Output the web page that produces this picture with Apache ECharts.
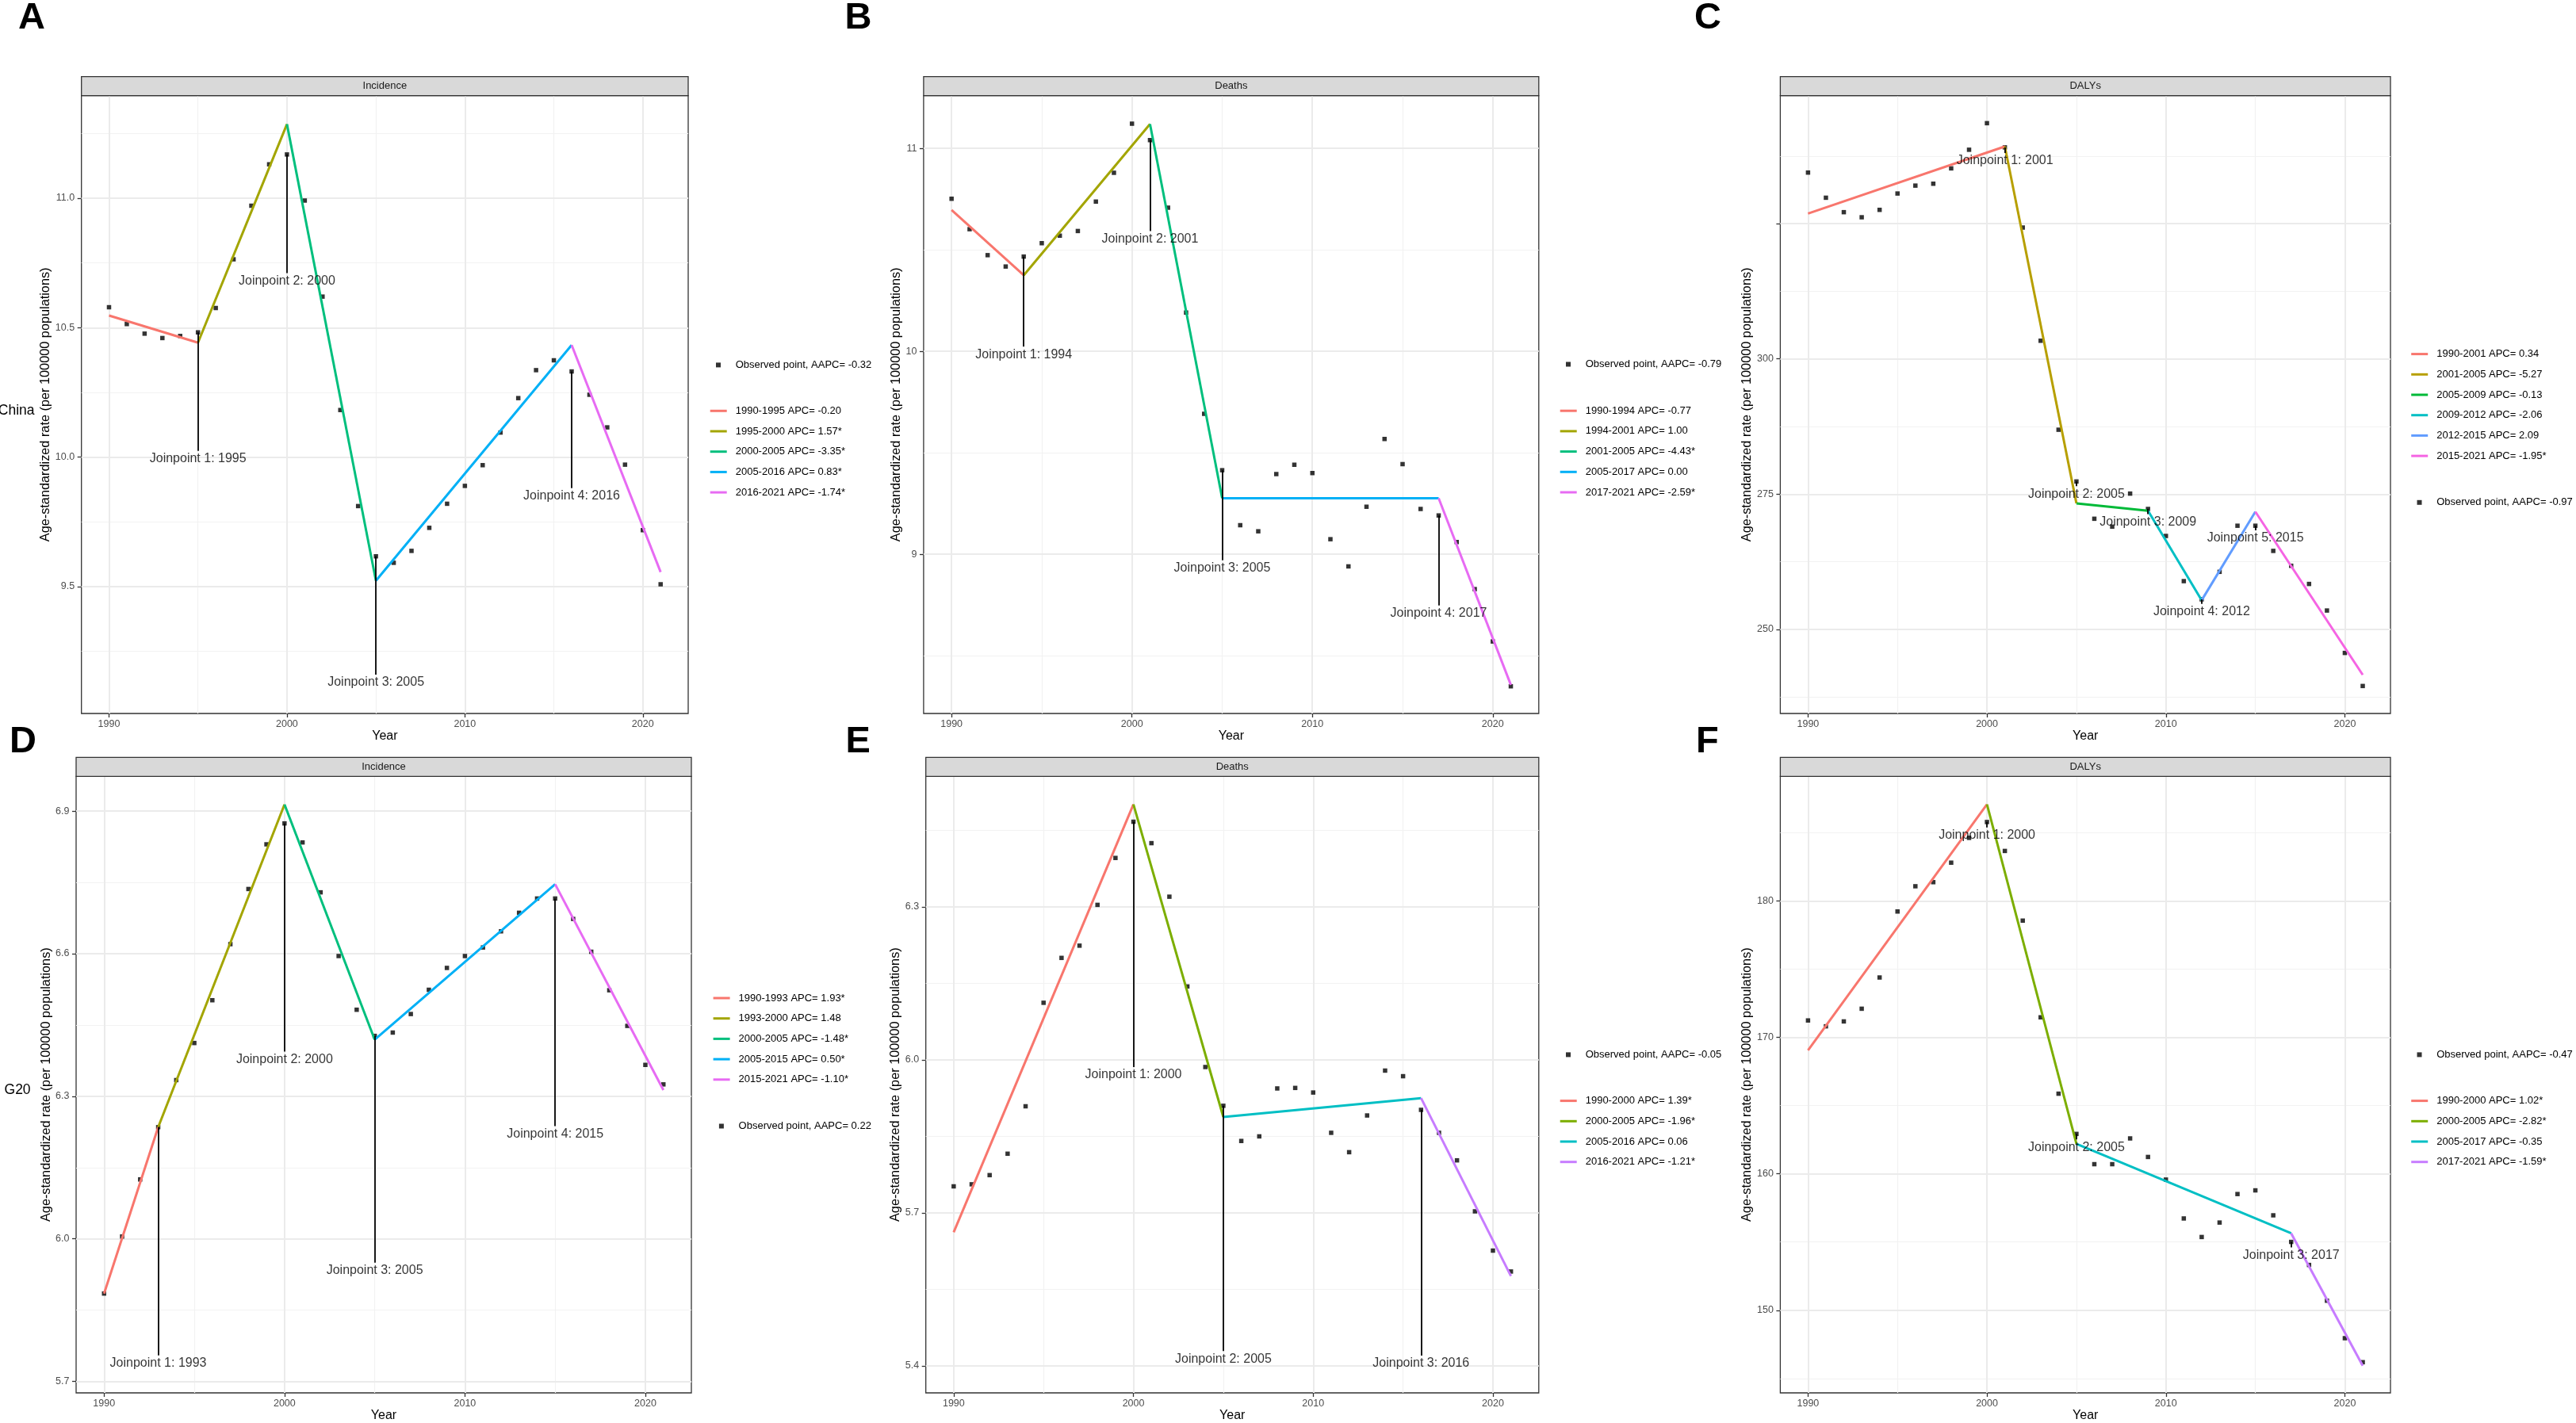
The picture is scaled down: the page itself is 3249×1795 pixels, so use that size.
<!DOCTYPE html>
<html><head><meta charset="utf-8">
<script src="https://cdn.jsdelivr.net/npm/echarts@6/dist/echarts.min.js"></script>
<style>html,body{margin:0;padding:0;background:#fff}#main{width:3249px;height:1795px}</style>
</head><body><div id="main"></div>
<script>
// ---------- data ----------
const YEARS = [1990,1991,1992,1993,1994,1995,1996,1997,1998,1999,2000,2001,2002,2003,2004,2005,2006,2007,2008,2009,2010,2011,2012,2013,2014,2015,2016,2017,2018,2019,2020,2021];
const X_MAJOR = [1990,2000,2010,2020];
const X_MINOR = [1995,2005,2015];

// A: China Incidence
const A_obs = [10.579,10.514,10.477,10.460,10.468,10.482,10.576,10.764,10.971,11.131,11.169,10.991,10.620,10.182,9.811,9.617,9.592,9.638,9.727,9.820,9.889,9.969,10.095,10.228,10.336,10.374,10.331,10.241,10.115,9.971,9.718,9.509];
const A_fitYears = [1990,1995,2000,2005,2016,2021];
const A_fit = [10.547,10.442,11.286,9.523,10.433,9.556];
const A_segNames = ["1990-1995 APC= -0.20","1995-2000 APC= 1.57*","2000-2005 APC= -3.35*","2005-2016 APC= 0.83*","2016-2021 APC= -1.74*"];
const A_obsName = "Observed point, AAPC= -0.32";
const A_jpYears = [1995,2000,2005,2016];
const A_jpLabelY = [10.024,10.711,9.16,9.88];
const A_yMajor = [9.5,10,10.5,11];
const A_yLabels = [9.5,10,10.5,11];
const A_yMinor = [9.25,9.75,10.25,10.75,11.25];

// B: China Deaths
const B_obs = [10.752,10.602,10.474,10.418,10.467,10.533,10.570,10.593,10.738,10.880,11.122,11.041,10.708,10.191,9.692,9.414,9.143,9.113,9.395,9.441,9.400,9.074,8.940,9.234,9.568,9.444,9.223,9.191,9.060,8.828,8.570,8.349];
const B_fitYears = [1990,1994,2001,2005,2017,2021];
const B_fit = [10.697,10.375,11.120,9.276,9.276,8.356];
const B_segNames = ["1990-1994 APC= -0.77","1994-2001 APC= 1.00","2001-2005 APC= -4.43*","2005-2017 APC= 0.00","2017-2021 APC= -2.59*"];
const B_obsName = "Observed point, AAPC= -0.79";
const B_jpYears = [1994,2001,2005,2017];
const B_jpLabelY = [10.023,10.593,8.970,8.747];
const B_yMajor = [9,10,11];
const B_yLabels = [9,10,11];
const B_yMinor = [8.5,9.5,10.5];

// C: China DALYs
const C_obs = [334.44,329.79,327.12,326.18,327.55,330.57,332.03,332.38,335.22,338.66,343.57,339.1,324.28,303.36,286.91,277.35,270.46,269.00,275.11,272.27,267.28,258.93,255.57,260.65,269.17,269.17,264.52,261.77,258.41,253.50,245.66,239.55];
const C_fitYears = [1990,2001,2005,2009,2012,2015,2021];
const C_fit = [326.87,339.27,273.31,271.93,255.40,271.76,241.62];
const C_segNames = ["1990-2001 APC= 0.34","2001-2005 APC= -5.27","2005-2009 APC= -0.13","2009-2012 APC= -2.06","2012-2015 APC= 2.09","2015-2021 APC= -1.95*"];
const C_obsName = "Observed point, AAPC= -0.97";
const C_jpYears = [2001,2005,2009,2012,2015];
const C_jpLabelY = [338.06,276.49,271.32,254.71,268.31];
const C_yMajor = [250,275,300,325];
const C_yLabels = [250,275,300];
const C_yMinor = [237.5,262.5,287.5,312.5,337.5];

// D: G20 Incidence
const D_obs = [5.885,6.005,6.125,6.235,6.334,6.412,6.502,6.620,6.736,6.830,6.874,6.834,6.729,6.595,6.482,6.427,6.434,6.473,6.524,6.570,6.595,6.613,6.647,6.686,6.716,6.716,6.673,6.604,6.523,6.448,6.366,6.325];
const D_fitYears = [1990,1993,2000,2005,2015,2021];
const D_fit = [5.885,6.235,6.914,6.419,6.746,6.313];
const D_segNames = ["1990-1993 APC= 1.93*","1993-2000 APC= 1.48","2000-2005 APC= -1.48*","2005-2015 APC= 0.50*","2015-2021 APC= -1.10*"];
const D_obsName = "Observed point, AAPC= 0.22";
const D_jpYears = [1993,2000,2005,2015];
const D_jpLabelY = [5.755,6.394,5.950,6.237];
const D_yMajor = [5.7,6.0,6.3,6.6,6.9];
const D_yLabels = [5.7,6.0,6.3,6.6,6.9];
const D_yMinor = [5.85,6.15,6.45,6.75];

// E: G20 Deaths
const E_obs = [5.752,5.756,5.774,5.816,5.909,6.112,6.200,6.224,6.304,6.396,6.467,6.425,6.320,6.144,5.986,5.910,5.841,5.850,5.944,5.945,5.936,5.857,5.819,5.891,5.979,5.968,5.902,5.857,5.803,5.703,5.626,5.585];
const E_fitYears = [1990,2000,2005,2016,2021];
const E_fit = [5.662,6.501,5.888,5.925,5.576];
const E_segNames = ["1990-2000 APC= 1.39*","2000-2005 APC= -1.96*","2005-2016 APC= 0.06","2016-2021 APC= -1.21*"];
const E_obsName = "Observed point, AAPC= -0.05";
const E_jpYears = [2000,2005,2016];
const E_jpLabelY = [5.986,5.429,5.420];
const E_yMajor = [5.4,5.7,6.0,6.3];
const E_yLabels = [5.4,5.7,6.0,6.3];
const E_yMinor = [5.55,5.85,6.15,6.45];

// F: G20 DALYs
const F_obs = [171.25,170.82,171.18,172.11,174.40,179.24,181.09,181.39,182.82,184.64,185.80,183.68,178.57,171.48,165.88,162.93,160.71,160.71,162.60,161.24,159.58,156.73,155.37,156.43,158.52,158.79,156.96,155.01,153.32,150.70,147.95,146.19];
const F_fitYears = [1990,2000,2005,2017,2021];
const F_fit = [169.06,187.09,162.20,155.64,145.93];
const F_segNames = ["1990-2000 APC= 1.02*","2000-2005 APC= -2.82*","2005-2017 APC= -0.35","2017-2021 APC= -1.59*"];
const F_obsName = "Observed point, AAPC= -0.47";
const F_jpYears = [2000,2005,2017];
const F_jpLabelY = [185.40,162.53,154.61];
const F_yMajor = [150,160,170,180];
const F_yLabels = [150,160,170,180];
const F_yMinor = [145,155,165,175,185];

// ---------- styling / layout ----------
const PAL5 = ['#F8766D','#A3A500','#00BF7D','#00B0F6','#E76BF3'];
const PAL6 = ['#F8766D','#B79F00','#00BA38','#00BFC4','#619CFF','#F564E3'];
const PAL4 = ['#F8766D','#7CAE00','#00BFC4','#C77CFF'];
const FONT = "'Liberation Sans', Arial, Helvetica, sans-serif";

const panels = [
  {letter:'A', lx:23, ly:23.5, strip:'Incidence', obs:A_obs, fitYears:A_fitYears, fit:A_fit, segNames:A_segNames, obsName:A_obsName, jpYears:A_jpYears, jpLabelY:A_jpLabelY, yMajor:A_yMajor, yLabels:A_yLabels, yMinor:A_yMinor, dec:1, yMin:9.01, yMax:11.396, colors:PAL5,
   grid:{left:102.7, top:120.7, width:765.3, height:779.3}, nameGap:36.4, textX:927.7, lineRow:518.3, obsRow:460.4},
  {letter:'B', lx:1065.6, ly:23.5, strip:'Deaths', obs:B_obs, fitYears:B_fitYears, fit:B_fit, segNames:B_segNames, obsName:B_obsName, jpYears:B_jpYears, jpLabelY:B_jpLabelY, yMajor:B_yMajor, yLabels:B_yLabels, yMinor:B_yMinor, dec:0, yMin:8.215, yMax:11.26, colors:PAL5,
   grid:{left:1164.9, top:120.7, width:775.9, height:779.3}, nameGap:25.9, textX:1999.7, lineRow:518.2, obsRow:459.5},
  {letter:'C', lx:2137, ly:23.5, strip:'DALYs', obs:C_obs, fitYears:C_fitYears, fit:C_fit, segNames:C_segNames, obsName:C_obsName, jpYears:C_jpYears, jpLabelY:C_jpLabelY, yMajor:C_yMajor, yLabels:C_yLabels, yMinor:C_yMinor, dec:0, yMin:234.47, yMax:348.65, colors:PAL6,
   grid:{left:2245.4, top:120.7, width:769.6, height:779.3}, nameGap:33.7, textX:3073.2, lineRow:446.6, obsRow:633.8},
  {letter:'D', lx:12, ly:936.5, strip:'Incidence', obs:D_obs, fitYears:D_fitYears, fit:D_fit, segNames:D_segNames, obsName:D_obsName, jpYears:D_jpYears, jpLabelY:D_jpLabelY, yMajor:D_yMajor, yLabels:D_yLabels, yMinor:D_yMinor, dec:1, yMin:5.676, yMax:6.973, colors:PAL5,
   grid:{left:96, top:979.3, width:776, height:778.6}, nameGap:29.4, textX:931.6, lineRow:1259, obsRow:1420.5},
  {letter:'E', lx:1066.5, ly:936.5, strip:'Deaths', obs:E_obs, fitYears:E_fitYears, fit:E_fit, segNames:E_segNames, obsName:E_obsName, jpYears:E_jpYears, jpLabelY:E_jpLabelY, yMajor:E_yMajor, yLabels:E_yLabels, yMinor:E_yMinor, dec:1, yMin:5.347, yMax:6.556, colors:PAL4,
   grid:{left:1167.7, top:979.3, width:773.1, height:778.6}, nameGap:28.7, textX:1999.7, lineRow:1388.6, obsRow:1330.4},
  {letter:'F', lx:2139, ly:936.5, strip:'DALYs', obs:F_obs, fitYears:F_fitYears, fit:F_fit, segNames:F_segNames, obsName:F_obsName, jpYears:F_jpYears, jpLabelY:F_jpLabelY, yMajor:F_yMajor, yLabels:F_yLabels, yMinor:F_yMinor, dec:0, yMin:143.94, yMax:189.15, colors:PAL4,
   grid:{left:2245.4, top:979.3, width:769.6, height:778.6}, nameGap:33.7, textX:3073.2, lineRow:1388.6, obsRow:1330.4}
];

const grids = [], xAxes = [], yAxes = [], series = [], legends = [], graphics = [];

panels.forEach((p, i) => {
  grids.push(Object.assign({show:true, borderColor:'#333333', borderWidth:1.3, backgroundColor:'transparent', containLabel:false}, p.grid));
  xAxes.push({
    type:'value', gridIndex:i, min:1988.45, max:2022.55,
    axisLine:{show:false},
    axisTick:{show:true, length:5, lineStyle:{color:'#333333', width:1.3}, customValues:X_MAJOR},
    axisLabel:{customValues:X_MAJOR, fontSize:12.5, color:'#4d4d4d', margin:7, fontFamily:FONT, formatter:v=>String(v)},
    splitLine:{show:false},
    name:'Year', nameLocation:'middle', nameGap:21, nameTextStyle:{fontSize:16, color:'#000', fontFamily:FONT}
  });
  yAxes.push({
    type:'value', gridIndex:i, min:p.yMin, max:p.yMax,
    axisLine:{show:false},
    axisTick:{show:true, length:5, lineStyle:{color:'#333333', width:1.3}, customValues:p.yMajor},
    axisLabel:{customValues:p.yLabels, fontSize:12.5, color:'#4d4d4d', margin:8.5, fontFamily:FONT, formatter:v=>Number(v).toFixed(p.dec)},
    splitLine:{show:false},
    name:'Age-standardized rate (per 100000 populations)', nameLocation:'middle', nameGap:p.nameGap,
    nameTextStyle:{fontSize:16.3, color:'#000', fontFamily:FONT}
  });

  // gridlines (drawn beneath everything)
  const gl = [];
  X_MINOR.forEach(v => gl.push({xAxis:v, lineStyle:{color:'#f2f2f2', width:1.2, type:'solid'}}));
  p.yMinor.forEach(v => gl.push({yAxis:v, lineStyle:{color:'#f2f2f2', width:1.2, type:'solid'}}));
  X_MAJOR.forEach(v => gl.push({xAxis:v, lineStyle:{color:'#ebebeb', width:2, type:'solid'}}));
  p.yMajor.forEach(v => gl.push({yAxis:v, lineStyle:{color:'#ebebeb', width:2, type:'solid'}}));
  series.push({
    type:'line', name:'grid'+i, xAxisIndex:i, yAxisIndex:i, z:1, silent:true,
    data:[[YEARS[0], p.obs[0]]], showSymbol:false, symbol:'none', lineStyle:{opacity:0},
    markLine:{z:1, silent:true, symbol:['none','none'], label:{show:false}, emphasis:{disabled:true}, animation:false, data:gl}
  });

  // observed points
  series.push({
    type:'scatter', name:p.obsName, xAxisIndex:i, yAxisIndex:i, z:3,
    data: YEARS.map((y, j) => [y, p.obs[j]]),
    symbol:'rect', symbolSize:5.5, itemStyle:{color:'#000'}
  });

  // fitted segments
  p.segNames.forEach((nm, k) => {
    series.push({
      type:'line', name:nm, xAxisIndex:i, yAxisIndex:i, z:4,
      data:[[p.fitYears[k], p.fit[k]], [p.fitYears[k+1], p.fit[k+1]]],
      showSymbol:false, symbol:'none', color:p.colors[k],
      lineStyle:{color:p.colors[k], width:3}, itemStyle:{color:p.colors[k]}
    });
  });

  // joinpoint annotations
  series.push({
    type:'scatter', name:'jp'+i, xAxisIndex:i, yAxisIndex:i, z:5, silent:true,
    symbolSize:0.01, itemStyle:{color:'rgba(0,0,0,0)'},
    data: p.jpYears.map((yr, k) => ({name:'Joinpoint ' + (k+1) + ': ' + yr, value:[yr, p.jpLabelY[k]]})),
    label:{show:true, position:'bottom', distance:2, formatter:'{b}', fontSize:16, lineHeight:16, color:'#000', fontFamily:FONT},
    markLine:{z:5, silent:true, symbol:['none','none'], label:{show:false}, emphasis:{disabled:true}, animation:false,
      lineStyle:{color:'#000', width:1.8, type:'solid'},
      data: p.jpYears.map((yr, k) => [{coord:[yr, p.obs[yr - YEARS[0]]]}, {coord:[yr, p.jpLabelY[k]]}])}
  });

  // legends
  legends.push({
    data:p.segNames, orient:'vertical', left:p.textX - 32, top:p.lineRow - 8, padding:0,
    icon:'rect', itemWidth:21, itemHeight:3, itemGap:9.7, selectedMode:false,
    textStyle:{fontSize:13, color:'#000', lineHeight:16, fontFamily:FONT, padding:[0,0,0,6]}
  });
  legends.push({
    data:[p.obsName], orient:'vertical', left:p.textX - 24.7, top:p.obsRow - 8, padding:0,
    icon:'rect', itemWidth:6, itemHeight:6, selectedMode:false,
    textStyle:{fontSize:13, color:'#000', lineHeight:16, fontFamily:FONT, padding:[0,0,0,13.7]}
  });

  // strip
  const g = p.grid;
  graphics.push({type:'rect', z:10, shape:{x:g.left, y:g.top - 24, width:g.width, height:24},
    style:{fill:'#d9d9d9', stroke:'#333333', lineWidth:1.3}});
  graphics.push({type:'text', z:11, x:g.left + g.width/2, y:g.top - 12,
    style:{text:p.strip, fontSize:13, fill:'#1a1a1a', align:'center', verticalAlign:'middle', fontFamily:FONT}});
  // panel letter
  graphics.push({type:'text', z:11, x:p.lx, y:p.ly,
    style:{text:p.letter, fontSize:47, fontWeight:'bold', fill:'#000', align:'left', verticalAlign:'middle', fontFamily:FONT}});
});

// row labels
graphics.push({type:'text', z:11, x:43.5, y:518, style:{text:'China', fontSize:17.5, fill:'#000', align:'right', verticalAlign:'middle', fontFamily:FONT}});
graphics.push({type:'text', z:11, x:38.6, y:1375.5, style:{text:'G20', fontSize:17.5, fill:'#000', align:'right', verticalAlign:'middle', fontFamily:FONT}});

const chart = echarts.init(document.getElementById('main'), null, {renderer:'canvas'});
chart.setOption({
  backgroundColor:'#ffffff',
  animation:false,
  textStyle:{fontFamily:FONT},
  grid:grids, xAxis:xAxes, yAxis:yAxes, series:series, legend:legends, graphic:graphics
});
</script>
</body></html>
